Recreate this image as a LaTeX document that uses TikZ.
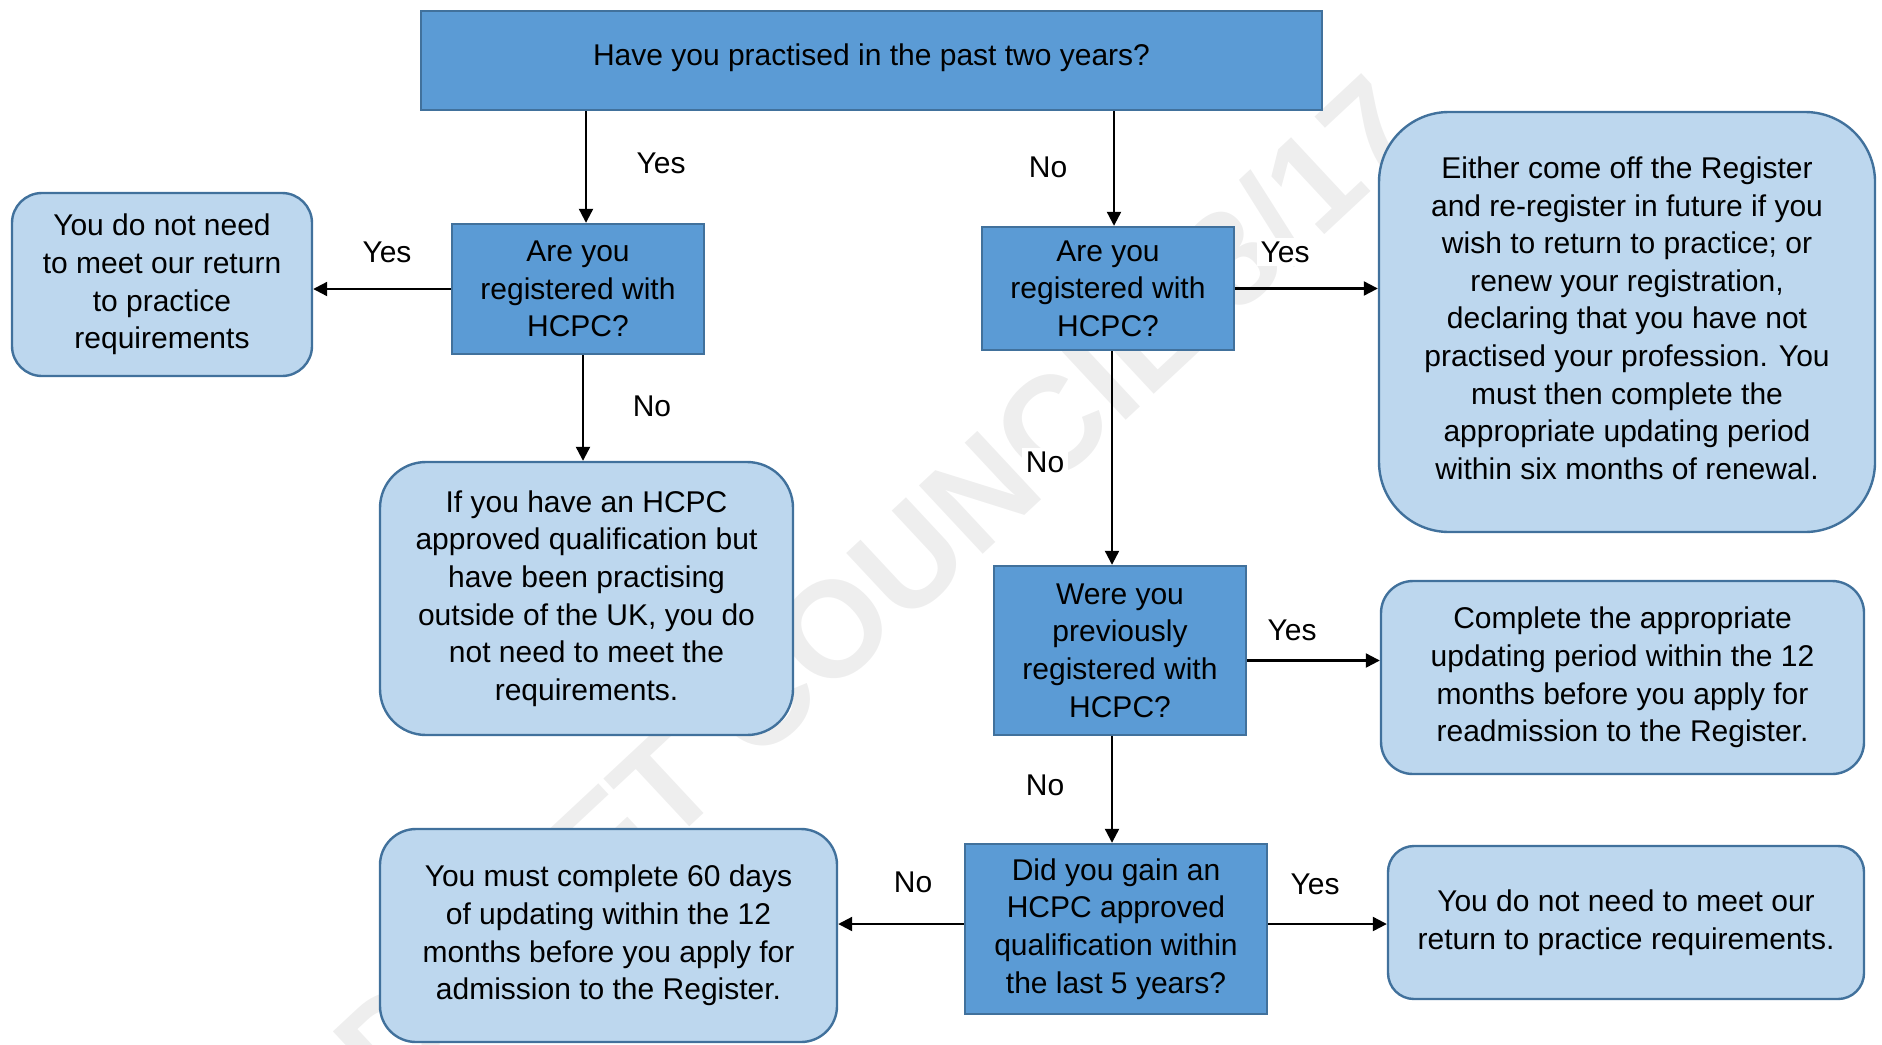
\documentclass[tikz,border=0pt]{standalone}
\usepackage{fontspec}
\setmainfont{Liberation Sans}
\usetikzlibrary{arrows.meta}
\definecolor{qblue}{HTML}{5B9BD5}
\definecolor{ablue}{HTML}{BDD7EE}
\definecolor{edgeblue}{HTML}{41719C}
\begin{document}
\begin{tikzpicture}[x=0.5pt,y=-0.5pt,
	txt/.style={font=\fontsize{15}{18.8}\selectfont,align=center,text=black},
	qbox/.style={txt,draw=edgeblue,fill=qblue,line width=1.2pt,inner sep=0pt},
	abox/.style={txt,draw=edgeblue,fill=ablue,line width=1.2pt,inner sep=0pt,rounded corners=#1},
	lbl/.style={txt,fill=white,inner sep=2pt},
	arr/.style={line width=1.1pt,-{Triangle[length=7pt,width=7pt]}},
	wmark/.style={font=\fontsize{68}{80}\selectfont\bfseries,text=gray!13,rotate=43,anchor=base}]
\useasboundingbox (0,0) rectangle (1882,1044);
\node[wmark] (draft) at (910,622) {DRAFT COUNCIL 8/17};

\node[qbox,minimum width=450.5pt,minimum height=49.5pt,text depth=6pt] (start) at (871.5,60.5) {Have you practised in the past two years?};
\node[qbox,minimum width=126pt,minimum height=65pt] (regA) at (578,289) {Are you\\registered with\\HCPC?};
\node[abox=15pt,minimum width=150pt,minimum height=91.5pt] (noneedA) at (162,284.5) {You do not need\\to meet our return\\to practice\\requirements};
\node[abox=23pt,minimum width=206.5pt,minimum height=136.5pt] (abroad) at (586.5,598.5) {If you have an HCPC\\approved qualification but\\have been practising\\outside of the UK, you do\\not need to meet the\\requirements.};
\node[qbox,minimum width=126pt,minimum height=61.5pt] (regB) at (1108,288.5) {Are you\\registered with\\HCPC?};
\node[abox=35pt,minimum width=248pt,minimum height=210pt,text depth=4pt] (either) at (1627,322) {Either come off the Register\\and re-register in future if you\\wish to return to practice; or\\renew your registration,\\declaring that you have not\\practised your profession. You\\must then complete the\\appropriate updating period\\within six months of renewal.};
\node[qbox,minimum width=126pt,minimum height=84.5pt] (prevreg) at (1120,650.5) {Were you\\previously\\registered with\\HCPC?};
\node[abox=16pt,minimum width=241.5pt,minimum height=96.5pt] (readmit) at (1622.5,677.5) {Complete the appropriate\\updating period within the 12\\months before you apply for\\readmission to the Register.};
\node[qbox,minimum width=151pt,minimum height=85pt] (qualif) at (1116,929) {Did you gain an\\HCPC approved\\qualification within\\the last 5 years?};
\node[abox=13pt,minimum width=238pt,minimum height=76.5pt] (noneedB) at (1626,922.5) {You do not need to meet our\\return to practice requirements.};
\node[abox=18pt,minimum width=228.5pt,minimum height=106.5pt] (sixty) at (608.5,935.5) {You must complete 60 days\\of updating within the 12\\months before you apply for\\admission to the Register.};

\draw[arr] ([xshift=4pt]regA.north |- start.south) -- ([xshift=4pt]regA.north);
\draw[arr] ([xshift=3pt]regB.north |- start.south) -- ([xshift=3pt]regB.north);
\draw[arr] (regA.west) -- (regA.west -| noneedA.east);
\draw[arr] ([xshift=2.5pt]regA.south) -- ([xshift=2.5pt]regA.south |- abroad.north);
\draw[arr] (regB.east) -- (regB.east -| either.west);
\draw[arr] ([xshift=2pt]regB.south) -- ([xshift=2pt]regB.south |- prevreg.north);
\draw[arr] ([yshift=-5pt]prevreg.east) -- ([yshift=-5pt]prevreg.east -| readmit.west);
\draw[arr] ([xshift=-4pt]prevreg.south) -- ([xshift=-4pt]prevreg.south |- qualif.north);
\draw[arr] ([yshift=2.5pt]qualif.east) -- ([yshift=2.5pt]qualif.east -| noneedB.west);
\draw[arr] ([yshift=2.5pt]qualif.west) -- ([yshift=2.5pt]qualif.west -| sixty.east);

\node[lbl] (yes1) at (661,163) {Yes};
\node[lbl] (no1) at (1048,167) {No};
\node[lbl] (yes2) at (387,252) {Yes};
\node[lbl] (no2) at (652,406) {No};
\node[lbl] (yes3) at (1285,252) {Yes};
\node[lbl] (no3) at (1045,462) {No};
\node[lbl] (yes4) at (1292,630) {Yes};
\node[lbl] (no4) at (1045,785) {No};
\node[lbl] (yes5) at (1315,884) {Yes};
\node[lbl] (no5) at (913,882) {No};
\end{tikzpicture}
\end{document}
